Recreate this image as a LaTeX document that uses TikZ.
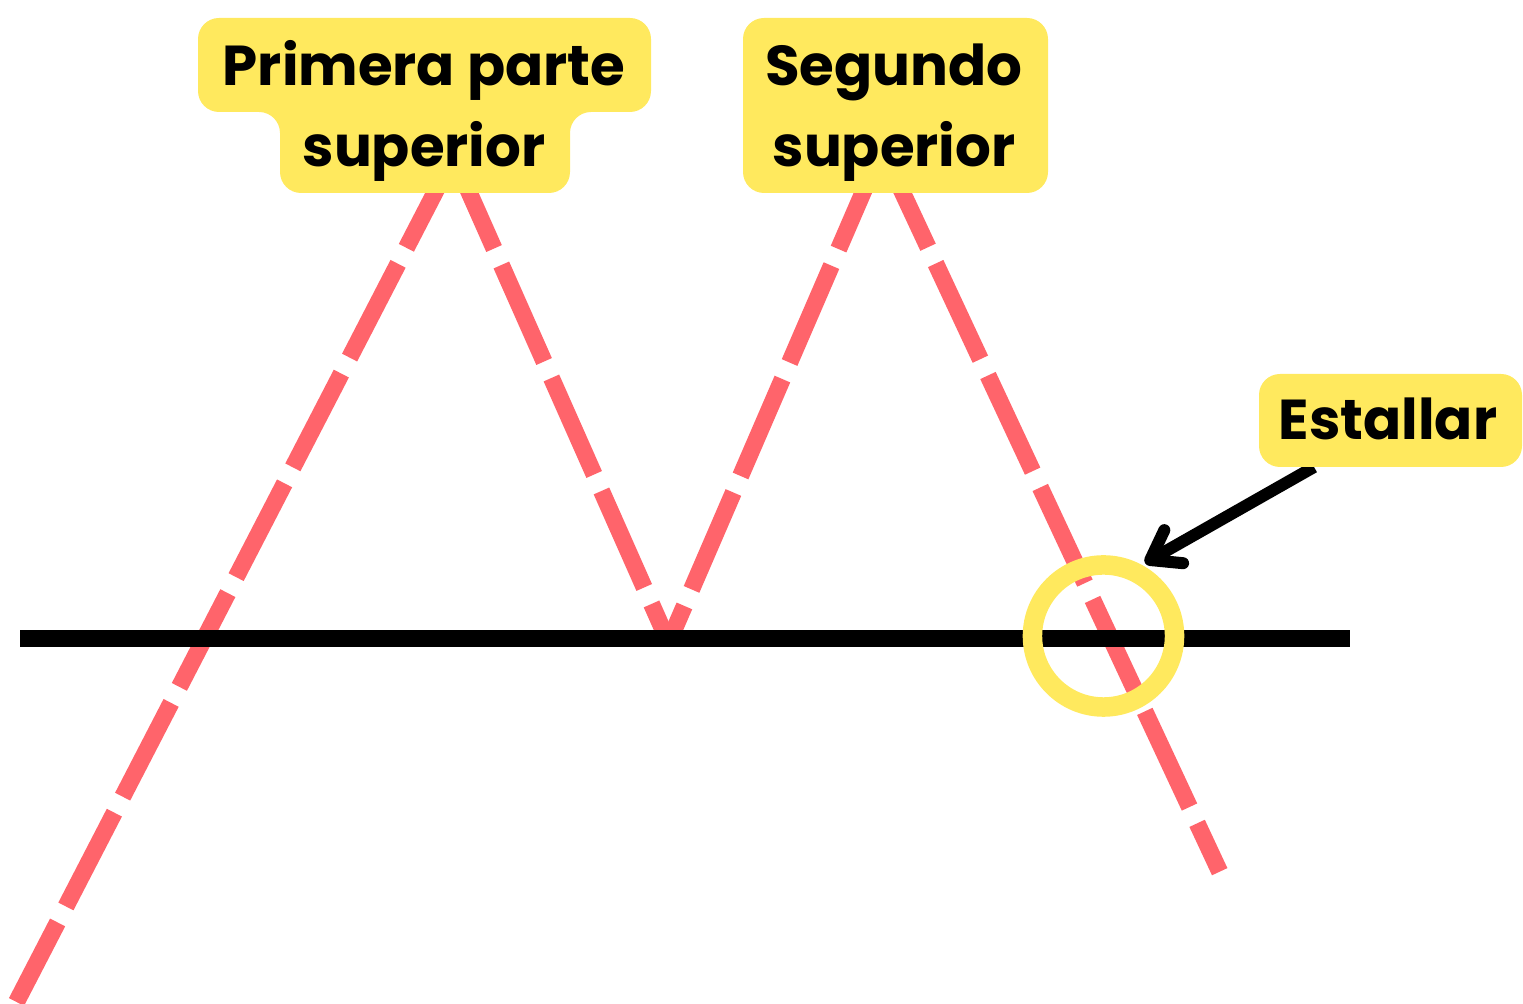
\documentclass[tikz,border=0pt]{standalone}
\usepackage{fontspec}
\setmainfont{Poppins}
\usetikzlibrary{arrows.meta}
\definecolor{rojo}{HTML}{FF646B}
\definecolor{amarillo}{HTML}{FFE95E}

\begin{document}
\begin{tikzpicture}[x=0.01cm,y=-0.01cm,
  linea/.style={line width=0.17cm,rojo,dash pattern=on 1.055cm off 0.18cm},
  etiqueta/.style={fill=amarillo,rounded corners=0.21cm},
  texto/.style={anchor=base,inner sep=0pt,font=\fontsize{16}{21}\selectfont\bfseries}]
  \useasboundingbox (0,0) rectangle (1523,1004); % 画像の大きさ(1px = 0.01cm)
  \coordinate (ini) at (16.5,1002);    % 左下の始点
  \coordinate (cima1) at (453.4,156.8); % 一つ目の山
  \coordinate (valle) at (668.6,642.5); % 谷(ネックライン上)
  \coordinate (cima2) at (882,148.6);   % 二つ目の山
  \coordinate (fin) at (1219.7,871.7);  % 右下の終点
  \draw[linea,dash phase=0.16cm] (ini) -- (cima1);   % 上昇
  \draw[linea,dash phase=0.052cm] (cima1) -- (valle); % 下降
  \draw[linea,dash phase=0.657cm] (valle) -- (cima2); % 再上昇
  \draw[linea,dash phase=1.202cm] (cima2) -- (fin);   % 下降してブレイク
  \coordinate (cuelloI) at (20,638.5); \coordinate (cuelloD) at (1350,638.5);
  \draw[line width=0.17cm] (cuelloI) -- (cuelloD); % ネックライン
  \draw[amarillo,line width=0.195cm] (1103.5,636) circle[radius=0.71cm]; % ブレイク位置の丸
  \coordinate (flechaIni) at (1314,467); \coordinate (flechaFin) at (1145,563);
  \draw[line width=0.12cm,-{Straight Barb[round,length=0.27cm,width=0.38cm]}] (flechaIni) -- (flechaFin); % 矢印
  \fill[etiqueta] (198,18) -- (651,18) -- (651,112) -- (570,112) -- (570,193) -- (280,193) -- (280,112) -- (198,112) -- cycle; % 吹き出し1
  \fill[etiqueta] (743,18) rectangle (1048,193); % 吹き出し2
  \fill[etiqueta] (1259,374) rectangle (1522,467); % 吹き出し3
  \node[texto] (primera) at (424,86) {Primera parte};
  \node[texto] (primeraB) at (424,167) {superior};
  \node[texto] (segundo) at (894,86) {Segundo};
  \node[texto] (segundoB) at (894,167) {superior};
  \node[texto] (estallar) at (1388,440) {Estallar};
\end{tikzpicture}
\end{document}
